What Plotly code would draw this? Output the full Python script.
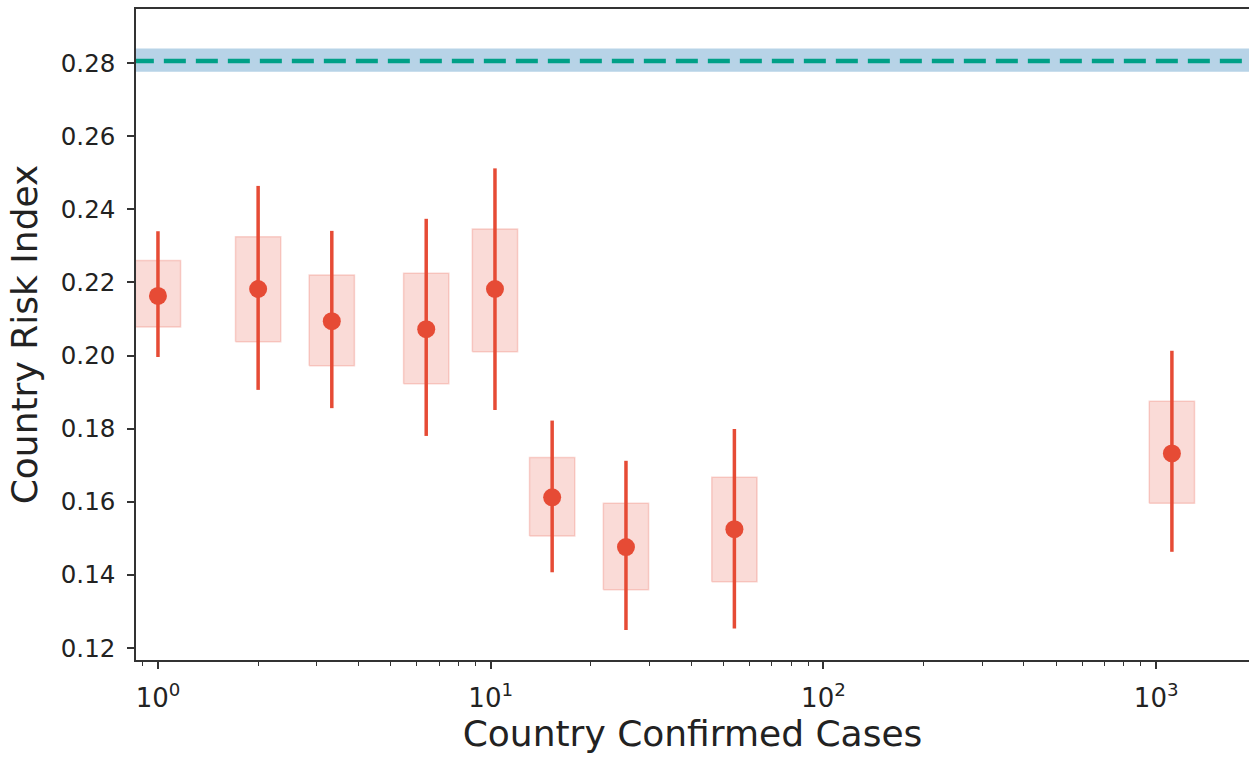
import math
import plotly.graph_objects as go

# Data
cases = [1.0, 2.0, 3.33, 6.4, 10.3, 15.3, 25.5, 54.0, 1115.0]
risk = [0.2163, 0.2182, 0.2094, 0.2072, 0.2182, 0.1612, 0.1476, 0.1525, 0.1732]
ci_high = [0.2340, 0.2464, 0.2341, 0.2374, 0.2512, 0.1822, 0.1712, 0.1799, 0.2013]
ci_low = [0.1996, 0.1906, 0.1856, 0.1780, 0.1851, 0.1407, 0.1249, 0.1253, 0.1463]
iqr_high = [0.2260, 0.2325, 0.2220, 0.2225, 0.2346, 0.1721, 0.1596, 0.1667, 0.1875]
iqr_low = [0.2078, 0.2038, 0.1972, 0.1923, 0.2010, 0.1506, 0.1359, 0.1381, 0.1596]

baseline = 0.2806
baseline_low = 0.2776
baseline_high = 0.2840

x_range = [0.859, 1901]
y_range = [0.1167, 0.2948]
y_ticks = [0.12, 0.14, 0.16, 0.18, 0.20, 0.22, 0.24, 0.26, 0.28]
x_ticks = [1, 10, 100, 1000]
x_ticktext = ["10<sup>0</sup>", "10<sup>1</sup>", "10<sup>2</sup>", "10<sup>3</sup>"]

RED = "#E64B35"
TEAL = "#00A087"
BAND = "#B7D3E7"
box_factor = 10 ** 0.068

fig = go.Figure()

# Baseline band
fig.add_trace(go.Scatter(
    x=[x_range[0] * 0.5, x_range[1] * 2, x_range[1] * 2, x_range[0] * 0.5, x_range[0] * 0.5],
    y=[baseline_low, baseline_low, baseline_high, baseline_high, baseline_low],
    fill="toself", fillcolor=BAND, line=dict(width=0), mode="lines",
    hoverinfo="skip", showlegend=False))
fig.add_trace(go.Scatter(
    x=[x_range[0] * 0.5, x_range[1] * 2], y=[baseline, baseline],
    mode="lines", line=dict(color=TEAL, width=4.5, dash="22px,10px"),
    showlegend=False))

# IQR boxes
for c, lo, hi in zip(cases, iqr_low, iqr_high):
    x0, x1 = c / box_factor, c * box_factor
    fig.add_trace(go.Scatter(
        x=[x0, x1, x1, x0, x0], y=[lo, lo, hi, hi, lo],
        fill="toself", fillcolor="rgba(230,75,53,0.2)",
        line=dict(color="rgba(230,75,53,0.22)", width=1.5), mode="lines",
        hoverinfo="skip", showlegend=False))

# Points with CI
fig.add_trace(go.Scatter(
    x=cases, y=risk, mode="markers",
    marker=dict(color=RED, size=18),
    error_y=dict(type="data", symmetric=False,
                 array=[h - r for h, r in zip(ci_high, risk)],
                 arrayminus=[r - l for r, l in zip(risk, ci_low)],
                 color=RED, thickness=3.5, width=0),
    showlegend=False))

minor_vals = [m * 10 ** d for d in range(-1, 4) for m in range(2, 10)]
minor_vals = [v for v in minor_vals if x_range[0] <= v <= x_range[1]]

font_family = "DejaVu Sans, sans-serif"
fig.update_layout(
    width=1249, height=757,
    margin=dict(l=136, r=0, t=9, b=97),
    plot_bgcolor="white", paper_bgcolor="white",
    font=dict(family=font_family, color="#222", size=22),
    xaxis=dict(
        type="log", range=[math.log10(x_range[0]), math.log10(x_range[1])],
        tickvals=x_ticks, ticktext=x_ticktext,
        ticks="outside", ticklen=7, tickwidth=1.5, tickcolor="#333",
        minor=dict(ticks="outside", ticklen=4, tickwidth=1.2, tickcolor="#333",
                   tickvals=minor_vals, showgrid=False),
        showline=True, linecolor="#333", linewidth=1.5, mirror=True,
        showgrid=False, zeroline=False,
        tickfont=dict(size=26), ticklabelstandoff=7,
        title=dict(text="Country Confirmed Cases", font=dict(size=36), standoff=6),
    ),
    yaxis=dict(
        range=y_range, tickvals=y_ticks, tickformat=".2f",
        ticks="outside", ticklen=7, tickwidth=1.5, tickcolor="#333",
        showline=True, linecolor="#333", linewidth=1.5,
        showgrid=False, zeroline=False,
        tickfont=dict(size=24.5), ticklabelstandoff=7,
        title=dict(text="Country Risk Index", font=dict(size=36), standoff=12),
    ),
)

fig.write_html("out.html", config={"displayModeBar": False},
               post_script="document.body.style.margin='0';")
